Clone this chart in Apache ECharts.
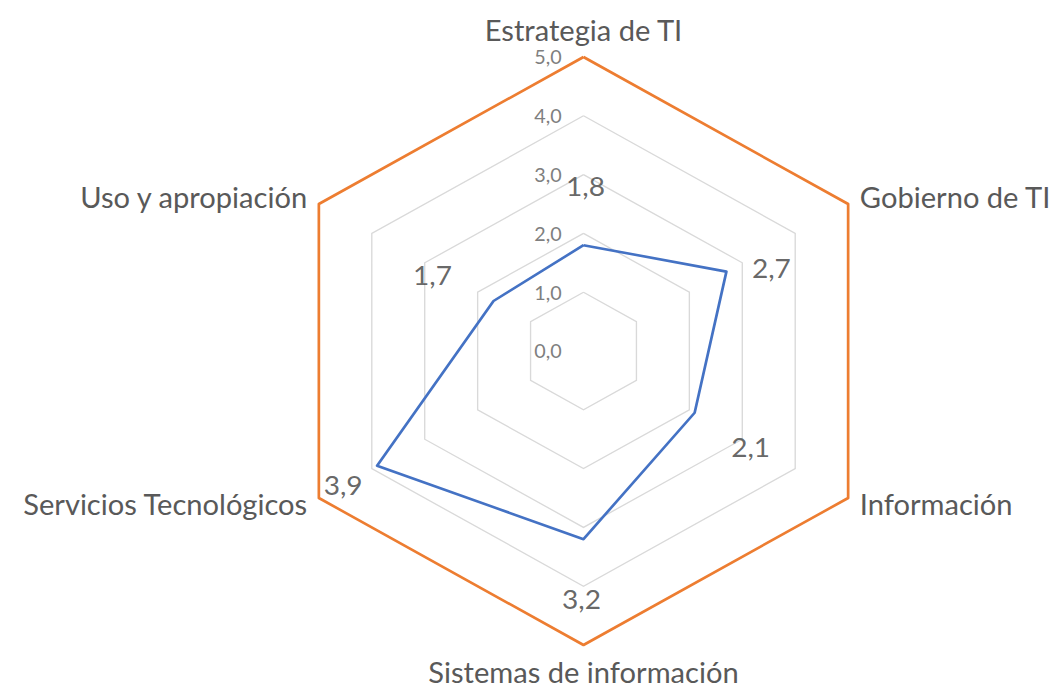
<!DOCTYPE html>
<html>
<head>
<meta charset="utf-8">
<script src="https://cdn.jsdelivr.net/npm/echarts@6/dist/echarts.min.js"></script>
<style>
  html, body { margin: 0; padding: 0; background: #fff; overflow: hidden; }
  /* la figura original está un poco estirada en horizontal */
  #chart { width: 1015px; height: 691px; transform: scaleX(1.0394); transform-origin: 0 0; }
</style>
</head>
<body>
<div id="chart"></div>
<script>
// dominios evaluados
const categories = ['Estrategia de TI', 'Gobierno de TI', 'Información', 'Sistemas de información', 'Servicios Tecnológicos', 'Uso y apropiación'];
const actualValues = [1.8, 2.7, 2.1, 3.2, 3.9, 1.7];
const targetValues = [5, 5, 5, 5, 5, 5];
const scaleTicks = [0, 1, 2, 3, 4, 5];
// desplazamiento de cada etiqueta de dato (px en pantalla)
const labelOffsets = [[2, -59], [45, -4], [56, 34], [-2, 60], [-34, 19], [-61, -26]];

const stretch = 1.0394;
const fmt = v => Number(v).toFixed(1).replace('.', ',');
const font = 'Lato, "Open Sans", sans-serif';
const center = [583.5 / stretch, 351];
const radius = 294;

// el radar de echarts gira en sentido antihorario: se reordena para ir en sentido horario
const order = categories.map((c, i) => (categories.length - i) % categories.length);
const clockwise = arr => order.map(i => arr[i]);

const chart = echarts.init(document.getElementById('chart'), null, { renderer: 'svg' });

const option = {
    backgroundColor: '#fff',
    animation: false,
    radar: {
        center: center,
        radius: radius,
        startAngle: 90,
        splitNumber: 5,
        shape: 'polygon',
        nameGap: 13,
        axisName: {
            color: '#595959',
            fontSize: 28,
            fontFamily: font
        },
        indicator: clockwise(categories).map(name => ({ name: name, min: 0, max: scaleTicks[scaleTicks.length - 1] })),
        axisLine: { show: false },
        axisTick: { show: false },
        splitArea: { show: false },
        splitLine: { lineStyle: { color: '#d9d9d9', width: 1.3 } }
    },
    polar: {
        center: center,
        radius: radius
    },
    angleAxis: {
        type: 'category',
        data: categories,
        startAngle: 90,
        clockwise: true,
        boundaryGap: false,
        show: false
    },
    radiusAxis: {
        type: 'value',
        min: scaleTicks[0],
        max: scaleTicks[scaleTicks.length - 1],
        interval: 1,
        axisLine: { show: false },
        axisTick: { show: false },
        splitLine: { show: false },
        axisLabel: {
            show: true,
            margin: 21,
            color: '#7f7f7f',
            fontSize: 19,
            fontFamily: font,
            formatter: fmt
        }
    },
    series: [
        {
            type: 'radar',
            symbol: 'none',
            lineStyle: { color: '#ED7D31', width: 2.6 },
            data: [{ value: clockwise(targetValues), name: 'Meta' }]
        },
        {
            type: 'radar',
            symbol: 'none',
            lineStyle: { color: '#4472C4', width: 2.6 },
            data: [{ value: clockwise(actualValues), name: 'Actual' }]
        },
        {
            type: 'scatter',
            coordinateSystem: 'polar',
            symbolSize: 0,
            silent: true,
            data: actualValues.map((v, i) => ({
                value: [v, categories[i]],
                label: { offset: [labelOffsets[i][0] / stretch, labelOffsets[i][1]] }
            })),
            label: {
                show: true,
                position: 'inside',
                color: '#404040',
                fontSize: 27,
                fontFamily: font,
                formatter: p => fmt(p.value[0])
            }
        }
    ]
};

chart.setOption(option);
</script>
</body>
</html>
